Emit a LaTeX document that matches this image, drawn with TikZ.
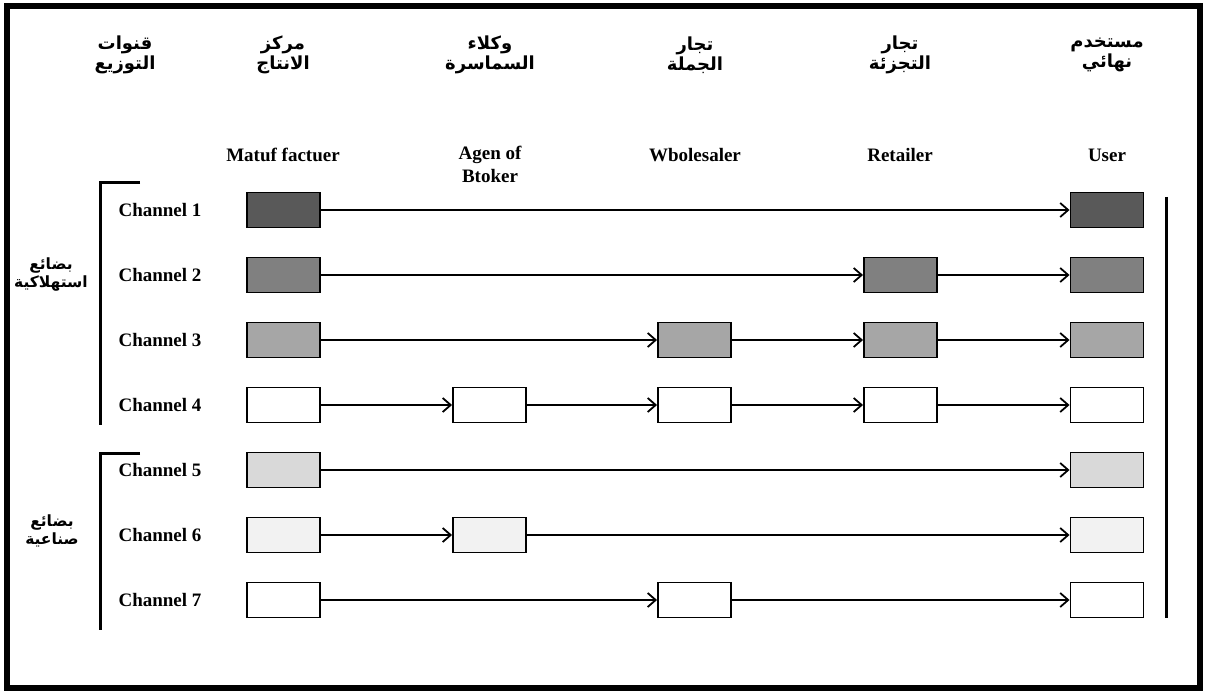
\documentclass[tikz,border=0pt]{standalone}
\usepackage{fontspec}
\setmainfont{Liberation Serif}
\newfontfamily\arabicfont[Script=Arabic]{DejaVu Sans}
\TeXXeTstate=1
\usetikzlibrary{arrows.meta}
% one right-to-left line of Arabic in bold
\newcommand\artxt[1]{{\arabicfont\bfseries\beginR #1\endR}}

\begin{document}
\begin{tikzpicture}[x=1pt,y=-1pt,
  box/.style={draw, line width=1.9pt, minimum width=73pt, minimum height=35pt, inner sep=0pt},
  flow/.style={line width=1.8pt, -{Straight Barb[length=8pt,width=14pt,line width=1.8pt]}},
  eng/.style={font=\fontsize{19}{23}\selectfont\bfseries, align=center, inner sep=0pt},
  arab/.style={font=\fontsize{18}{19.5}\selectfont, align=center, inner sep=0pt},
  side/.style={font=\fontsize{15.5}{18}\selectfont, align=center, inner sep=0pt},
  bracket/.style={line width=3pt}]
\useasboundingbox (0,0) rectangle (1208,695);
\draw[line width=5.5pt] (7,6) rectangle (1200,688);

% Arabic column titles
\node[arab] (t0) at (125,55) {\artxt{قنوات}\\\artxt{التوزيع}};
\node[arab] (t1) at (283,55) {\artxt{مركز}\\\artxt{الانتاج}};
\node[arab] (t2) at (490,55) {\artxt{وكلاء}\\\artxt{السماسرة}};
\node[arab] (t3) at (695,55) {\artxt{تجار}\\\artxt{الجملة}};
\node[arab] (t4) at (900,55) {\artxt{تجار}\\\artxt{التجزئة}};
\node[arab] (t5) at (1107,55) {\artxt{مستخدم}\\\artxt{نهائي}};

% English column titles
\node[eng] (e1) at (283,155) {Matuf factuer};
\node[eng] (e2) at (490,164) {Agen of\\Btoker};
\node[eng] (e3) at (695,155) {Wbolesaler};
\node[eng] (e4) at (900,155) {Retailer};
\node[eng] (e5) at (1107,155) {User};

% channel names
\foreach \i/\y in {1/210,2/275,3/340,4/405,5/470,6/535,7/600}
  \node[eng] (c\i) at (160,\y) {Channel \i};

% goods groups
\node[side] (g1) at (51,275) {\artxt{بضائع}\\\artxt{استهلاكية}};
\node[side] (g2) at (52,531) {\artxt{بضائع}\\\artxt{صناعية}};
\draw[bracket] (140,183) -- (100,183) -- (100,425);
\draw[bracket] (140,453) -- (100,453) -- (100,630);
\draw[bracket] (1166,197) -- (1166,618);

% channel 1
\node[box, fill=black!65] (m1) at (283.5,210) {};
\node[box, fill=black!65] (u1) at (1107,210) {};
\draw[flow] (m1) -- (u1);
% channel 2
\node[box, fill=black!50] (m2) at (283.5,275) {};
\node[box, fill=black!50] (r2) at (900.5,275) {};
\node[box, fill=black!50] (u2) at (1107,275) {};
\draw[flow] (m2) -- (r2);
\draw[flow] (r2) -- (u2);
% channel 3
\node[box, fill=black!35] (m3) at (283.5,340) {};
\node[box, fill=black!35] (w3) at (694.5,340) {};
\node[box, fill=black!35] (r3) at (900.5,340) {};
\node[box, fill=black!35] (u3) at (1107,340) {};
\draw[flow] (m3) -- (w3);
\draw[flow] (w3) -- (r3);
\draw[flow] (r3) -- (u3);
% channel 4
\node[box, fill=white] (m4) at (283.5,405) {};
\node[box, fill=white] (a4) at (489.5,405) {};
\node[box, fill=white] (w4) at (694.5,405) {};
\node[box, fill=white] (r4) at (900.5,405) {};
\node[box, fill=white] (u4) at (1107,405) {};
\draw[flow] (m4) -- (a4);
\draw[flow] (a4) -- (w4);
\draw[flow] (w4) -- (r4);
\draw[flow] (r4) -- (u4);
% channel 5
\node[box, fill=black!15] (m5) at (283.5,470) {};
\node[box, fill=black!15] (u5) at (1107,470) {};
\draw[flow] (m5) -- (u5);
% channel 6
\node[box, fill=black!5] (m6) at (283.5,535) {};
\node[box, fill=black!5] (a6) at (489.5,535) {};
\node[box, fill=black!5] (u6) at (1107,535) {};
\draw[flow] (m6) -- (a6);
\draw[flow] (a6) -- (u6);
% channel 7
\node[box, fill=white] (m7) at (283.5,600) {};
\node[box, fill=white] (w7) at (694.5,600) {};
\node[box, fill=white] (u7) at (1107,600) {};
\draw[flow] (m7) -- (w7);
\draw[flow] (w7) -- (u7);
\end{tikzpicture}
\end{document}
